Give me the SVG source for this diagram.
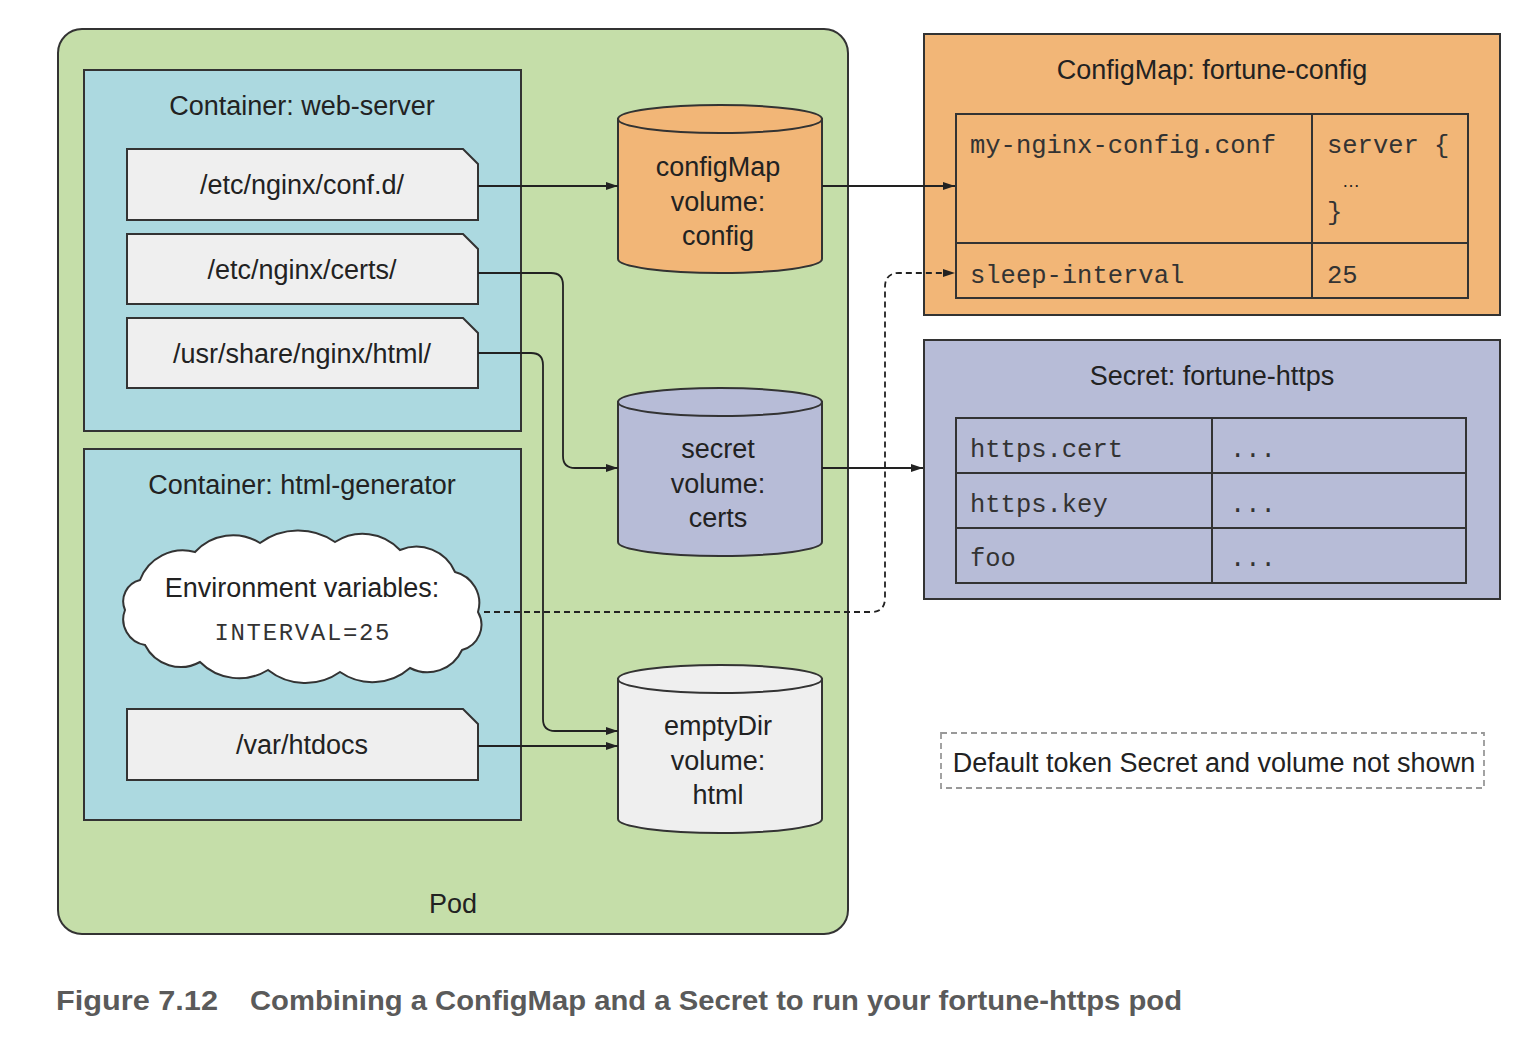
<svg xmlns="http://www.w3.org/2000/svg" width="1524" height="1054" viewBox="0 0 1524 1054">
<style>
.sans{font-family:"Liberation Sans",Arial,sans-serif;fill:#222}
.mono{font-family:"Liberation Mono","Courier New",monospace;fill:#333}
.ln{fill:none;stroke:#222;stroke-width:1.8}
.box{stroke:#333;stroke-width:2}
.t24{font-size:27px}
.t25{font-size:27px}
.mid{text-anchor:middle}
</style>
<defs>
<marker id="arr" viewBox="0 0 12 8" refX="12" refY="4" markerWidth="12" markerHeight="8" markerUnits="userSpaceOnUse" orient="auto">
<path d="M0,0 L12,4 L0,8 z" fill="#222"/>
</marker>
</defs>
<rect width="1524" height="1054" fill="#ffffff"/>

<g id="pod">
<rect x="58" y="29" width="790" height="905" rx="24" fill="#c5dea9" class="box"/>
<text x="453" y="913" class="sans t24 mid">Pod</text>
</g>

<g id="container-web-server">
<rect x="84" y="70" width="437" height="361" fill="#acd9e0" class="box"/>
<text x="302" y="115" class="sans t24 mid">Container: web-server</text>
</g>
<g id="mount-conf">
<path d="M127,149 H463 L478,164 V220 H127 Z" fill="#efefef" class="box"/>
<text x="302" y="194" class="sans t24 mid">/etc/nginx/conf.d/</text>
</g>
<g id="mount-certs">
<path d="M127,234 H463 L478,249 V304 H127 Z" fill="#efefef" class="box"/>
<text x="302" y="279" class="sans t24 mid">/etc/nginx/certs/</text>
</g>
<g id="mount-html">
<path d="M127,318 H463 L478,333 V388 H127 Z" fill="#efefef" class="box"/>
<text x="302" y="363" class="sans t24 mid">/usr/share/nginx/html/</text>
</g>

<g id="container-html-generator">
<rect x="84" y="449" width="437" height="371" fill="#acd9e0" class="box"/>
<text x="302" y="494" class="sans t24 mid">Container: html-generator</text>
</g>
<g id="env-cloud">
<path d="M140,580 A46,46 0 0 1 195,552 A51,51 0 0 1 260,543 A65,65 0 0 1 335,542 A51,51 0 0 1 400,550 A42,42 0 0 1 455,572 A32,32 0 0 1 478,612 A26,26 0 0 1 462,650 A38,38 0 0 1 410,668 A57,57 0 0 1 340,672 A60,60 0 0 1 268,670 A55,55 0 0 1 200,662 A40,40 0 0 1 145,645 A26,26 0 0 1 125,610 A22,22 0 0 1 140,580 Z" fill="#ffffff" class="box"/>
<text x="302" y="597" class="sans t24 mid">Environment variables:</text>
<text x="302" y="640" class="mono mid" font-size="24" fill="#444" textLength="175" lengthAdjust="spacing">INTERVAL=25</text>
</g>
<g id="mount-htdocs">
<path d="M127,709 H463 L478,724 V780 H127 Z" fill="#efefef" class="box"/>
<text x="302" y="754" class="sans t24 mid">/var/htdocs</text>
</g>

<g id="vol-config">
<path d="M618,119 V259 A102,14 0 0 0 822,259 V119 Z" fill="#f2b677" class="box"/>
<ellipse cx="720" cy="119" rx="102" ry="14" fill="#f2b677" class="box"/>
<text x="718" y="176" class="sans t25 mid">configMap</text>
<text x="718" y="211" class="sans t25 mid">volume:</text>
<text x="718" y="245" class="sans t25 mid">config</text>
</g>
<g id="vol-certs">
<path d="M618,402 V542 A102,14 0 0 0 822,542 V402 Z" fill="#b7bcd7" class="box"/>
<ellipse cx="720" cy="402" rx="102" ry="14" fill="#b7bcd7" class="box"/>
<text x="718" y="458" class="sans t25 mid">secret</text>
<text x="718" y="493" class="sans t25 mid">volume:</text>
<text x="718" y="527" class="sans t25 mid">certs</text>
</g>
<g id="vol-html">
<path d="M618,679 V819 A102,14 0 0 0 822,819 V679 Z" fill="#efefef" class="box"/>
<ellipse cx="720" cy="679" rx="102" ry="14" fill="#efefef" class="box"/>
<text x="718" y="735" class="sans t25 mid">emptyDir</text>
<text x="718" y="770" class="sans t25 mid">volume:</text>
<text x="718" y="804" class="sans t25 mid">html</text>
</g>

<g id="configmap">
<rect x="924" y="34" width="576" height="281" fill="#f2b677" class="box"/>
<text x="1212" y="79" class="sans t24 mid">ConfigMap: fortune-config</text>
<rect x="956" y="114" width="512" height="184" fill="none" class="box"/>
<line x1="1312" y1="114" x2="1312" y2="298" class="box"/>
<line x1="956" y1="243" x2="1468" y2="243" class="box"/>
<text x="970" y="153" class="mono" font-size="25.5">my-nginx-config.conf</text>
<text x="1327" y="153" class="mono" font-size="25.5">server {</text>
<text x="1342" y="187" class="sans" font-size="18">…</text>
<text x="1327" y="220" class="mono" font-size="25.5">}</text>
<text x="970" y="283" class="mono" font-size="25.5">sleep-interval</text>
<text x="1327" y="283" class="mono" font-size="25.5">25</text>
</g>

<g id="secret">
<rect x="924" y="340" width="576" height="259" fill="#b7bcd7" class="box"/>
<text x="1212" y="385" class="sans t24 mid">Secret: fortune-https</text>
<rect x="956" y="418" width="510" height="165" fill="none" class="box"/>
<line x1="1212" y1="418" x2="1212" y2="583" class="box"/>
<line x1="956" y1="473" x2="1466" y2="473" class="box"/>
<line x1="956" y1="528" x2="1466" y2="528" class="box"/>
<text x="970" y="457" class="mono" font-size="25.5">https.cert</text>
<text x="1230" y="457" class="mono" font-size="25.5">...</text>
<text x="970" y="512" class="mono" font-size="25.5">https.key</text>
<text x="1230" y="512" class="mono" font-size="25.5">...</text>
<text x="970" y="566" class="mono" font-size="25.5">foo</text>
<text x="1230" y="566" class="mono" font-size="25.5">...</text>
</g>

<g id="note">
<rect x="941" y="733" width="543" height="55" fill="none" stroke="#999" stroke-width="1.8" stroke-dasharray="6,4"/>
<text x="1214" y="772" class="sans t24 mid">Default token Secret and volume not shown</text>
</g>

<g id="connectors">
<path d="M478,186 H618" class="ln" marker-end="url(#arr)"/>
<path d="M822,186 H955" class="ln" marker-end="url(#arr)"/>
<path d="M478,273 H551 Q563,273 563,285 V456 Q563,468 575,468 H618" class="ln" marker-end="url(#arr)"/>
<path d="M478,353 H531 Q543,353 543,365 V719 Q543,731 555,731 H618" class="ln" marker-end="url(#arr)"/>
<path d="M478,746 H618" class="ln" marker-end="url(#arr)"/>
<path d="M822,468 H923" class="ln" marker-end="url(#arr)"/>
<path d="M484,612 H871 Q885,612 885,598 V287 Q885,273 899,273 H955" class="ln" stroke-dasharray="6,4" marker-end="url(#arr)"/>
</g>

<g id="caption">
<text x="56" y="1010" font-family="'Liberation Sans',Arial,sans-serif" font-weight="bold" font-size="27" fill="#5a5a5a" textLength="162" lengthAdjust="spacingAndGlyphs">Figure 7.12</text>
<text x="250" y="1010" font-family="'Liberation Sans',Arial,sans-serif" font-weight="bold" font-size="27" fill="#5a5a5a" textLength="932" lengthAdjust="spacingAndGlyphs">Combining a ConfigMap and a Secret to run your fortune-https pod</text>
</g>
</svg>
